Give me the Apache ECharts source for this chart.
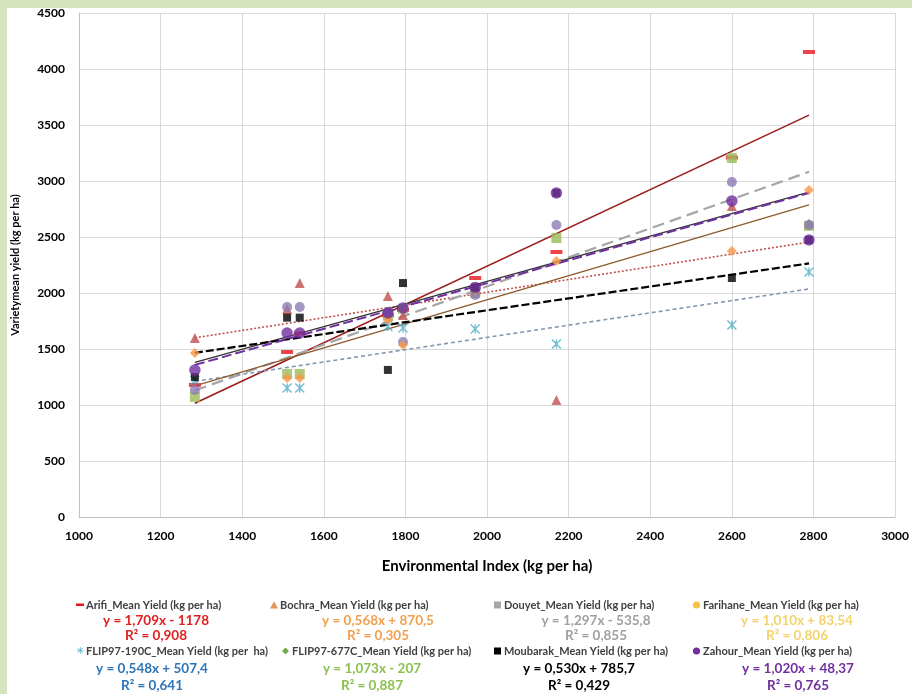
<!DOCTYPE html>
<html><head><meta charset="utf-8">
<script src="https://cdn.jsdelivr.net/npm/echarts@6/dist/echarts.min.js"></script>
<style>html,body{margin:0;padding:0;background:#fff}#c{width:912px;height:694px}</style>
</head><body><div id="c"></div>
<script>
// Environmental index (x) for each site
const envIndex = [1284, 1510, 1541, 1757, 1794, 1971, 2170, 2600, 2789];
// Variety mean yields (kg per ha), one value per site
const arifi    = [1179, 1473, 1640, 1800, 1850, 2134, 2366, 3210, 4152];
const bochra   = [1598, 1857, 2089, 1973, 1804, 2030, 1045, 2777, 2620];
const douyet   = [1072, 1277, 1277, 1800, 1860, 2000, 2491, 3205, 2600];
const farihane = [1134, 1875, 1875, 1830, 1563, 1982, 2607, 2991, 2607];
const flip190c = [1220, 1152, 1152, 1700, 1688, 1679, 1545, 1714, 2188];
const flip677c = [1465, 1241, 1241, 1759, 1536, 2027, 2286, 2375, 2920];
const moubarak = [1250, 1780, 1780, 1313, 2089, 2050, 2893, 2134, 2473];
const zahour   = [1312, 1643, 1643, 1821, 1866, 2050, 2893, 2822, 2473];
// Trend line end values (at first and last environmental index)
const trendX     = [1284, 2789];
const trendStart = [1016, 1600, 1130, 1380, 1211, 1171, 1466, 1358];
const trendEnd   = [3588, 2455, 3082, 2900, 2036, 2786, 2264, 2893];
// Legend texts
const names = ['Arifi_Mean Yield (kg per ha)','Bochra_Mean Yield (kg per ha)','Douyet_Mean Yield (kg per ha)','Farihane_Mean Yield (kg per ha)',
  'FLIP97-190C_Mean Yield (kg per  ha)','FLIP97-677C_Mean Yield (kg per ha)','Moubarak_Mean Yield (kg per ha)','Zahour_Mean Yield (kg per ha)'];
const equations = ['y = 1,709x - 1178','y = 0,568x + 870,5','y = 1,297x - 535,8','y = 1,010x + 83,54',
  'y = 0,548x + 507,4','y = 1,073x - 207','y = 0,530x + 785,7','y = 1,020x + 48,37'];
const r2 = ['R² = 0,908','R² = 0,305','R² = 0,855','R² = 0,806','R² = 0,641','R² = 0,887','R² = 0,429','R² = 0,765'];
const xTicks = [1000,1200,1400,1600,1800,2000,2200,2400,2600,2800,3000];
const yTicks = [0,500,1000,1500,2000,2500,3000,3500,4000,4500];

const allY = [arifi,bochra,douyet,farihane,flip190c,flip677c,moubarak,zahour];
const markerColor = ['#e8141b','#c0504d','#9bbb59','#8c7ab5','#4bacc6','#f79646','#000000','#7030a0'];
const eqColor = ['#e02020','#f0a050','#a0a0a0','#f3d36b','#2e75b6','#8cc152','#000000','#7030a0'];
const asterisk = 'path://M0,0 L10,10 M10,0 L0,10 M5,0 L5,10 M0,0 L10,10';
const symbols = ['rect','triangle','rect','circle',asterisk,'diamond','rect','circle'];
const symSizes = [[12,4],10,10,10,[9,9],10,8,11.5];
const lineStyles = [
  {color:'#9b1c1c',width:1.6,type:'solid'},
  {color:'#c0504d',width:1.6,type:[2,2]},
  {color:'#a6a6a6',width:2.2,type:[12,6]},
  {color:'#333333',width:1.2,type:'solid'},
  {color:'#8497b0',width:1.6,type:[4,3]},
  {color:'#8b5a2b',width:1.3,type:'solid'},
  {color:'#000000',width:2.2,type:[8,3]},
  {color:'#7030a0',width:2,type:[10,4]}
];

const series = [];
allY.forEach((ys,i)=>{
  series.push({type:'line', data:[[trendX[0],trendStart[i]],[trendX[1],trendEnd[i]]], symbol:'none',
    lineStyle:lineStyles[i], z:2, silent:true});
});
allY.forEach((ys,i)=>{
  const isAst = i===4;
  series.push({type:'scatter', data:envIndex.map((x,k)=>[x,ys[k]]), symbol:symbols[i], symbolSize:symSizes[i],
    itemStyle: isAst ? {color:'rgba(0,0,0,0)',borderColor:markerColor[i],borderWidth:1.4} : {color:markerColor[i]}, z:3});
});

// legend graphics
const colLabelX = [[76,270,494,693],[76,282,494,693]];
const eqCenterX = [[156,378,596,797],[152,372,579,798]];
const rowLabelY = [605,651];
const rowEqY = [621,669];
const rowR2Y = [636,686];
const graphic = [
  {type:'rect', left:0, top:0, shape:{width:912,height:8}, style:{fill:'#d5e3be'}, z:100},
  {type:'rect', left:0, top:0, shape:{width:7,height:694}, style:{fill:'#d5e3be'}, z:100}
];
for(let i=0;i<8;i++){
  const r = Math.floor(i/4), c = i%4;
  const lx = colLabelX[r][c];
  graphic.push({type:'text', x:lx+10, y:rowLabelY[r], style:{text:names[i], font:'bold 11px Lato', fill:'#404040', verticalAlign:'middle'}});
  const my = rowLabelY[r];
  if(i===0) graphic.push({type:'rect', shape:{x:lx,y:my-1.5,width:8,height:2.5}, style:{fill:markerColor[0]}});
  else if(i===1) graphic.push({type:'polygon', shape:{points:[[lx,my+3.5],[lx+8,my+3.5],[lx+4,my-3.5]]}, style:{fill:'#e29455'}});
  else if(i===2) graphic.push({type:'rect', shape:{x:lx,y:my-3.5,width:7,height:7}, style:{fill:'#a6a6a6'}});
  else if(i===3) graphic.push({type:'circle', shape:{cx:lx+3.5,cy:my,r:3.6}, style:{fill:'#f5c242'}});
  else if(i===4) graphic.push({type:'text', x:lx, y:my, style:{text:'✳', font:'10px DejaVu Sans', fill:'#4bacc6', verticalAlign:'middle'}});
  else if(i===5) graphic.push({type:'polygon', shape:{points:[[lx+3.5,my-3.5],[lx+7,my],[lx+3.5,my+3.5],[lx,my]]}, style:{fill:'#70ad47'}});
  else if(i===6) graphic.push({type:'rect', shape:{x:lx,y:my-3.5,width:7,height:7}, style:{fill:'#000'}});
  else graphic.push({type:'circle', shape:{cx:lx+3.5,cy:my,r:3.6}, style:{fill:'#7030a0'}});
  graphic.push({type:'text', x:eqCenterX[r][c], y:rowEqY[r], style:{text:equations[i], font:'bold 13.5px Lato', fill:eqColor[i], align:'center', verticalAlign:'middle'}});
  graphic.push({type:'text', x:eqCenterX[r][c], y:rowR2Y[r], style:{text:r2[i], font:'bold 13.5px Lato', fill:eqColor[i], align:'center', verticalAlign:'middle'}});
}

const chart = echarts.init(document.getElementById('c'), null, {renderer:'canvas'});
chart.setOption({
  animation:false,
  backgroundColor:'#fff',
  grid:{left:79, right:9, top:13, bottom:177},
  xAxis:{type:'value', min:xTicks[0], max:xTicks[xTicks.length-1], interval:200,
    name:'Environmental Index (kg per ha)', nameLocation:'middle', nameGap:42,
    nameTextStyle:{fontFamily:'Lato', fontWeight:'bold', fontSize:15, color:'#000'},
    axisLine:{lineStyle:{color:'#bfbfbf'}}, axisTick:{show:false},
    axisLabel:{fontFamily:'Lato', fontWeight:'bold', fontSize:12, color:'#000', margin:13, formatter:v=>String(v)},
    splitLine:{lineStyle:{color:'#d9d9d9'}}},
  yAxis:{type:'value', min:yTicks[0], max:yTicks[yTicks.length-1], interval:500,
    name:'Varietymean yield (kg per ha)', nameLocation:'middle', nameGap:58,
    nameTextStyle:{fontFamily:'Lato', fontWeight:'bold', fontSize:11, color:'#000'},
    axisLine:{show:true, lineStyle:{color:'#bfbfbf'}}, axisTick:{show:false},
    axisLabel:{fontFamily:'Lato', fontWeight:'bold', fontSize:12, color:'#000', margin:14, formatter:v=>String(v)},
    splitLine:{lineStyle:{color:'#d9d9d9'}}},
  series: series,
  graphic: graphic
});
</script></body></html>
